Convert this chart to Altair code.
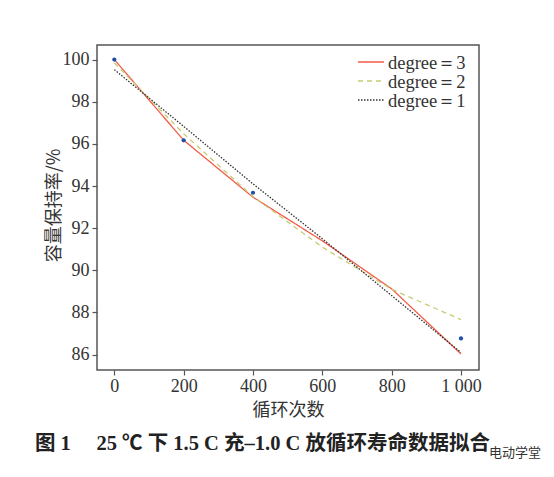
import altair as alt
import pandas as pd

# ---- data ----
cycles = [0, 200, 400, 600, 800, 1000]
fit_deg3 = [100.0, 96.17, 93.47, 91.40, 89.12, 86.03]
fit_deg2 = [99.84, 96.48, 93.50, 91.10, 89.10, 87.66]
fit_deg1 = [99.52, 96.83, 94.10, 91.50, 88.80, 86.10]
meas_cycles = [0, 200, 400, 1000]
meas_values = [100.0, 96.17, 93.68, 86.77]
series_names = ["degree＝3", "degree＝2", "degree＝1"]
series_colors = ["#f25c48", "#c5cc72", "#333333"]
series_dashes = [[1, 0], [5, 4], [1.5, 1.5]]
x_ticks = [0, 200, 400, 600, 800, 1000]
y_ticks = [86, 88, 90, 92, 94, 96, 98, 100]
caption_text = ["图 1　 25 ℃ 下 1.5 C 充–1.0 C 放循环寿命数据拟合"]
watermark_text = ["电动学堂"]

rows = []
for name, vals in zip(series_names, [fit_deg3, fit_deg2, fit_deg1]):
    for c, v in zip(cycles, vals):
        rows.append({"cycle": c, "value": v, "series": name})
fits = pd.DataFrame(rows)
meas = pd.DataFrame({"cycle": meas_cycles, "value": meas_values})

SERIF = "'Liberation Serif', 'Times New Roman', serif"
CJK = "'Noto Sans CJK SC', sans-serif"

xscale = alt.Scale(domain=[-50, 1052], nice=False, zero=False)
yscale = alt.Scale(domain=[85.27, 100.69], nice=False, zero=False)

x_enc = alt.X(
    "cycle:Q",
    scale=xscale,
    axis=alt.Axis(
        values=x_ticks,
        labelExpr="datum.value == 1000 ? '1 000' : datum.label",
        title="循环次数",
        titleX=191,
        titleY=40,
        titleBaseline="middle",
        labelPadding=2,
    ),
)
y_enc = alt.Y(
    "value:Q",
    scale=yscale,
    axis=alt.Axis(
        values=y_ticks,
        title="容量保持率/%",
        titleX=-43,
        titleY=160,
        titleAngle=270,
        titleAlign="center",
        titleBaseline="middle",
        labelPadding=3,
    ),
)

lines = alt.Chart(fits).mark_line(strokeWidth=1.3).encode(
    x=x_enc,
    y=y_enc,
    color=alt.Color(
        "series:N",
        scale=alt.Scale(domain=series_names, range=series_colors),
        legend=None,
    ),
    strokeDash=alt.StrokeDash(
        "series:N",
        scale=alt.Scale(domain=series_names, range=series_dashes),
        legend=None,
    ),
)

points = alt.Chart(meas).mark_circle(size=18, color="#1f4fa8", opacity=1).encode(
    x="cycle:Q", y="value:Q"
)

# hand-built legend (top-right inside the frame)
legend_layers = []
for i, (name, col, dash) in enumerate(zip(series_names, series_colors, series_dashes)):
    ly = 17 + 19 * i
    src = pd.DataFrame({"t": [name]})
    legend_layers.append(
        alt.Chart(src).mark_rule(color=col, strokeDash=dash, strokeWidth=1.5).encode(
            x=alt.value(261), x2=alt.value(287), y=alt.value(ly)
        )
    )
    legend_layers.append(
        alt.Chart(src).mark_text(
            align="left", baseline="middle", font=SERIF, fontSize=18.5, color="#333333"
        ).encode(x=alt.value(291), y=alt.value(ly + 1), text="t:N")
    )

caption = alt.Chart(pd.DataFrame({"t": caption_text})).mark_text(
    align="left", baseline="middle", font=SERIF + ", " + CJK, fontSize=20.5,
    fontWeight="bold", color="#222222"
).encode(x=alt.value(-62), y=alt.value(399), text="t:N")

watermark = alt.Chart(pd.DataFrame({"t": watermark_text})).mark_text(
    align="left", baseline="middle", font=CJK, fontSize=13, color="#333333"
).encode(x=alt.value(392), y=alt.value(408), text="t:N")

chart = alt.layer(lines, points, *legend_layers, caption, watermark).properties(
    width=382,
    height=325,
    autosize=alt.AutoSizeParams(type="none"),
    padding={"left": 89, "top": 37, "right": 67, "bottom": 99},
    background="white",
).configure_view(
    stroke="#555555", strokeWidth=1.5
).configure_axis(
    domain=False,
    grid=False,
    tickColor="#555555",
    tickSize=5,
    tickWidth=1.2,
    labelFont=SERIF,
    labelFontSize=18,
    labelColor="#333333",
    titleFont=CJK,
    titleFontSize=18,
    titleFontWeight="normal",
    titleColor="#333333",
)

chart.save("out.html", embed_options={"renderer": "svg", "actions": False})
